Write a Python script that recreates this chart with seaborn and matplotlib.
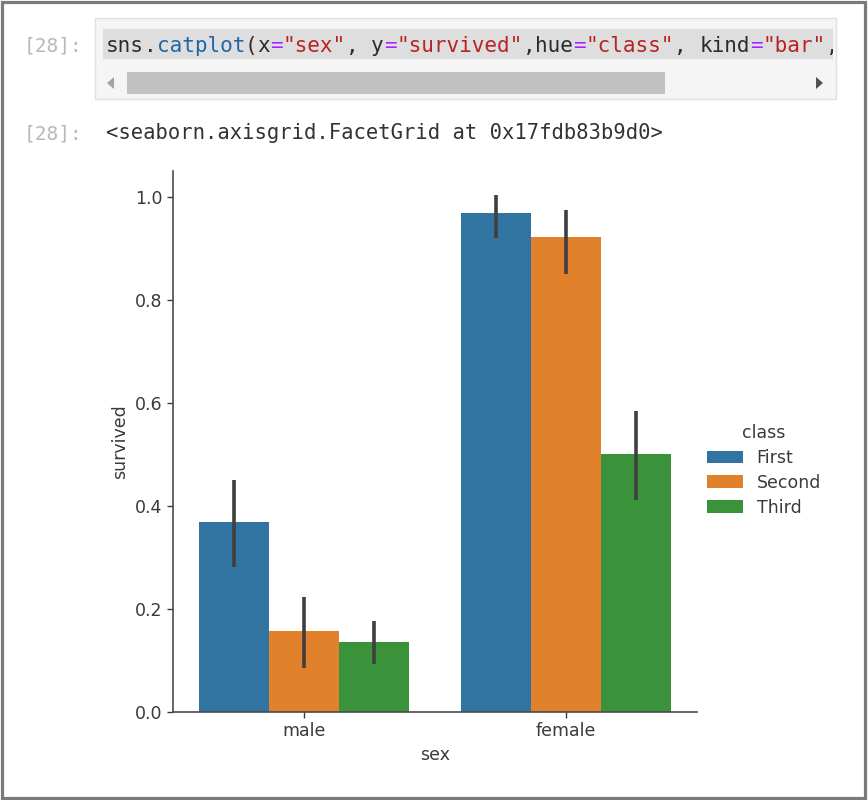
import numpy as np
import pandas as pd
import matplotlib
matplotlib.use("Agg")
import matplotlib.pyplot as plt
from matplotlib.patches import Rectangle, Polygon
import seaborn as sns

# values (titanic survival by sex / class)
sexes = ["male", "female"]
classes = ["First", "Second", "Third"]
survived_male = [0.369, 0.157, 0.135]
survived_female = [0.968, 0.921, 0.500]
ci_low_male = [0.281, 0.086, 0.093]
ci_high_male = [0.451, 0.224, 0.176]
ci_low_female = [0.919, 0.851, 0.412]
ci_high_female = [1.003, 0.975, 0.585]

code_tokens = [
    ("sns", "#2b2b2b"), (".", "#2b2b2b"), ("catplot", "#1f67a8"), ("(", "#2b2b2b"),
    ("x", "#2b2b2b"), ("=", "#aa22ff"), ('"sex"', "#ba2121"), (", ", "#2b2b2b"),
    ("y", "#2b2b2b"), ("=", "#aa22ff"), ('"survived"', "#ba2121"), (",", "#2b2b2b"),
    ("hue", "#2b2b2b"), ("=", "#aa22ff"), ('"class"', "#ba2121"), (", ", "#2b2b2b"),
    ("kind", "#2b2b2b"), ("=", "#aa22ff"), ('"bar"', "#ba2121"), (",", "#2b2b2b"),
]
prompt = "[28]:"
output_repr = "<seaborn.axisgrid.FacetGrid at 0x17fdb83b9d0>"

df = pd.DataFrame({
    "sex": np.repeat(sexes, len(classes)),
    "class": classes * len(sexes),
    "survived": survived_male + survived_female,
    "lo": ci_low_male + ci_low_female,
    "hi": ci_high_male + ci_high_female,
})

sns.set_style("ticks")
W, H = 868, 800
fig = plt.figure(figsize=(W / 100, H / 100), dpi=100)

# notebook chrome, drawn in pixel coordinates
bg = fig.add_axes([0, 0, 1, 1], zorder=0)
bg.set_xlim(0, W)
bg.set_ylim(H, 0)
bg.axis("off")
bg.add_patch(Rectangle((1.5, 1.5), 863, 796.5, fill=False, ec="#7a7a7a", lw=2.3))
bg.add_patch(Rectangle((95, 18), 741, 81, fc="#f5f5f5", ec="#e0e0e0", lw=1))
bg.add_patch(Rectangle((103, 29), 730, 30, fc="#dedede", ec="none"))
bg.add_patch(Rectangle((127, 72), 538, 22, fc="#c1c1c1", ec="none"))
bg.add_patch(Polygon([[114, 77], [114, 89], [107, 83]], closed=True, fc="#a3a3a3", ec="none"))
bg.add_patch(Polygon([[816, 77], [816, 89], [823, 83]], closed=True, fc="#505050", ec="none"))
bg.text(82, 52, prompt, ha="right", va="baseline", family="DejaVu Sans Mono",
        fontsize=14, color="#b8b8b8")
bg.text(82, 139, prompt, ha="right", va="baseline", family="DejaVu Sans Mono",
        fontsize=14, color="#b8b8b8")
bg.text(106, 139, output_repr, ha="left", va="baseline", family="DejaVu Sans Mono",
        fontsize=14.8, color="#333333")

# the code line, clipped to the cell like a scrolled editor
code_ax = fig.add_axes([103 / W, 1 - 59 / H, 730 / W, 30 / H], zorder=1)
code_ax.set_xlim(103, 833)
code_ax.set_ylim(59, 29)
code_ax.axis("off")
char_w = 0.602 * 15.1 * 100 / 72
col = 0
for tok, c in code_tokens:
    code_ax.text(106 + col * char_w, 52, tok, ha="left", va="baseline",
                 family="DejaVu Sans Mono", fontsize=15.1, color=c, clip_on=True)
    col += len(tok)

# the catplot itself
ax = fig.add_axes([173 / W, 88 / H, 524 / W, 541 / H], zorder=2)
sns.barplot(data=df, x="sex", y="survived", hue="class", order=sexes,
            hue_order=classes, errorbar=None, linewidth=0, ax=ax)
for container, cls in zip(ax.containers, classes):
    sub = df[df["class"] == cls].set_index("sex").loc[sexes]
    xs = [p.get_x() + p.get_width() / 2 for p in container.patches]
    ax.vlines(xs, sub["lo"], sub["hi"], color="#3f3f3f", lw=2.6, zorder=3)

ax.set_ylim(0, 1.05)
ax.set_xlim(-0.5, 1.5)
ax.set_yticks(np.arange(0, 1.01, 0.2))
ax.tick_params(labelsize=12.5, length=4, width=1, colors="#3a3a3a")
ax.set_xlabel("sex", fontsize=12.5, color="#3a3a3a")
ax.set_ylabel("survived", fontsize=12.5, color="#3a3a3a")
for s in ["left", "bottom"]:
    ax.spines[s].set_color("#4a4a4a")
    ax.spines[s].set_linewidth(1.2)
sns.despine(ax=ax)

sns.move_legend(ax, "center left", bbox_to_anchor=(1.006, 0.447), borderaxespad=0,
                frameon=False, title="class", fontsize=12.5, title_fontsize=12.5,
                labelspacing=0.4, handlelength=2.05, handleheight=0.7)
leg = ax.get_legend()
for t in leg.get_texts():
    t.set_color("#3a3a3a")
leg.get_title().set_color("#3a3a3a")

fig.savefig("out.png", dpi=100)
